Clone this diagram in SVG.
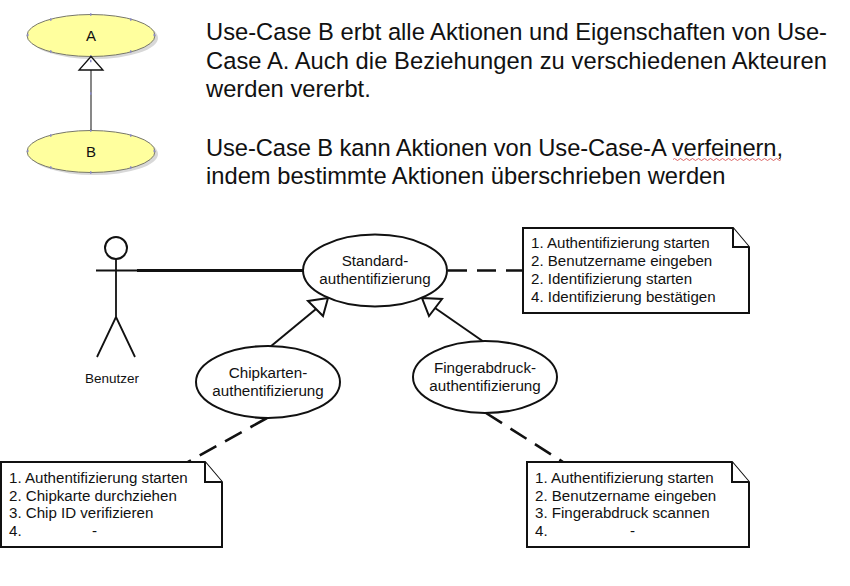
<svg xmlns="http://www.w3.org/2000/svg" width="850" height="586" viewBox="0 0 850 586">
<defs>
<style>
text{font-family:"Liberation Sans",Arial,sans-serif;fill:#111}
.big{font-size:23.72px}
.n{font-size:15.1px}
.a{font-size:13.5px}
.u{font-size:15px;text-anchor:middle}
.l{font-size:15.2px;text-anchor:middle}
.s{fill:#fff;stroke:#111;stroke-width:2}
.c{fill:none;stroke:#111;stroke-width:2}
.d{fill:none;stroke:#111;stroke-width:2.6;stroke-dasharray:19 10}
.y{fill:#ffff9e;stroke:#77776a;stroke-width:1}
.sh{fill:#d8d8d8}
.h{fill:none;stroke:#8a8ac8;stroke-width:2.500}
</style>
</defs>
<rect width="850" height="586" fill="#fff"/>

<g id="uml-a">
<ellipse class="sh" cx="94" cy="38" rx="64" ry="21"/>
<ellipse class="y" cx="91" cy="35.500" rx="64" ry="21"/>
<path class="h" d="M27 35h1.500M50 19.500h1.500M90 14.500h1.500M130 19.500h1.500M153.500 35h1.500M50 51.500h1.500M90 56.500h1.500M130 51.500h1.500"/>
<text class="u" x="91" y="40.500">A</text>
</g>
<g id="uml-b">
<ellipse class="sh" cx="94" cy="154" rx="64" ry="21"/>
<ellipse class="y" cx="91" cy="151.500" rx="64" ry="21"/>
<path class="h" d="M27 151h1.500M50 135.500h1.500M90 130.500h1.500M130 135.500h1.500M153.500 151h1.500M50 167.500h1.500M90 172.500h1.500M130 167.500h1.500"/>
<text class="u" x="91" y="156.500">B</text>
</g>
<g id="uml-connector">
<path d="M91 130V70" fill="none" stroke="#555" stroke-width="1.400"/>
<path d="M91 56.500 79 70H103Z" fill="#fff" stroke="#111" stroke-width="1.300"/>
<path class="h" d="M90 61h1.500M90 93.500h1.500"/>
</g>

<g id="description">
<text class="big" x="206" y="40">Use-Case B erbt alle Aktionen und Eigenschaften von Use-</text>
<text class="big" x="206" y="69" textLength="621">Case A. Auch die Beziehungen zu verschiedenen Akteuren</text>
<text class="big" x="206" y="97">werden vererbt.</text>
<text class="big" x="206" y="156" textLength="577">Use-Case B kann Aktionen von Use-Case-A verfeinern,</text>
<text class="big" x="206" y="184">indem bestimmte Aktionen überschrieben werden</text>
<path d="M673 159.500q1.500-2 3 0t3 0 3 0 3 0 3 0 3 0 3 0 3 0 3 0 3 0 3 0 3 0 3 0 3 0 3 0 3 0 3 0 3 0 3 0 3 0 3 0 3 0 3 0 3 0 3 0 3 0 3 0 3 0 3 0 3 0 3 0 3 0 3 0 3 0 3 0 3 0" fill="none" stroke="#d04040" stroke-width="0.800"/>
</g>

<g id="connectors">
<path d="M137 270.500H304" fill="none" stroke="#111" stroke-width="3"/>
<path class="d" d="M448 270.500H523"/>
<path class="c" d="M270 347 316 309"/>
<path class="c" d="M484 342 435 308"/>
<path class="d" d="M267 418 188 462"/>
<path class="d" d="M486 413 563 462"/>
<path class="s" d="M328 298 308 301 323 316Z"/>
<path class="s" d="M422 298 442 299 429 316Z"/>
</g>

<g id="actor-benutzer">
<circle cx="116" cy="248" r="11" fill="#fff" stroke="#111" stroke-width="2"/>
<path d="M116 259V317M96 270.500H137M116 317 97 357M116 317 135 357" fill="none" stroke="#111" stroke-width="1.800"/>
<text class="a" x="85" y="383">Benutzer</text>
</g>

<g id="uc-standard">
<ellipse class="s" cx="375" cy="270.500" rx="72" ry="36"/>
<text class="l" x="375" y="266">Standard-</text>
<text class="l" x="375" y="284">authentifizierung</text>
</g>
<g id="uc-chipkarte">
<ellipse class="s" cx="268" cy="382" rx="72" ry="36"/>
<text class="l" x="268" y="378">Chipkarten-</text>
<text class="l" x="268" y="396">authentifizierung</text>
</g>
<g id="uc-fingerabdruck">
<ellipse class="s" cx="485" cy="377" rx="72" ry="36"/>
<text class="l" x="485" y="373">Fingerabdruck-</text>
<text class="l" x="485" y="391">authentifizierung</text>
</g>

<g id="note-standard">
<path class="s" d="M523 228H733L749 247V313H523Z"/>
<path class="s" d="M733 228V247H749"/>
<text class="n" x="531" y="248">1. Authentifizierung starten</text>
<text class="n" x="531" y="266">2. Benutzername eingeben</text>
<text class="n" x="531" y="284">2. Identifizierung starten</text>
<text class="n" x="531" y="302">4. Identifizierung bestätigen</text>
</g>
<g id="note-chipkarte">
<path class="s" d="M1 462H205L222 482V547H1Z"/>
<path class="s" d="M205 462V482H222"/>
<text class="n" x="9" y="483">1. Authentifizierung starten</text>
<text class="n" x="9" y="501">2. Chipkarte durchziehen</text>
<text class="n" x="9" y="518">3. Chip ID verifizieren</text>
<text class="n" x="9" y="536">4.</text>
<text class="n" x="92" y="536">-</text>
</g>
<g id="note-fingerabdruck">
<path class="s" d="M527 462H732L749 482V547H527Z"/>
<path class="s" d="M732 462V482H749"/>
<text class="n" x="535" y="483">1. Authentifizierung starten</text>
<text class="n" x="535" y="501">2. Benutzername eingeben</text>
<text class="n" x="535" y="518">3. Fingerabdruck scannen</text>
<text class="n" x="535" y="536">4.</text>
<text class="n" x="630" y="536">-</text>
</g>
</svg>
